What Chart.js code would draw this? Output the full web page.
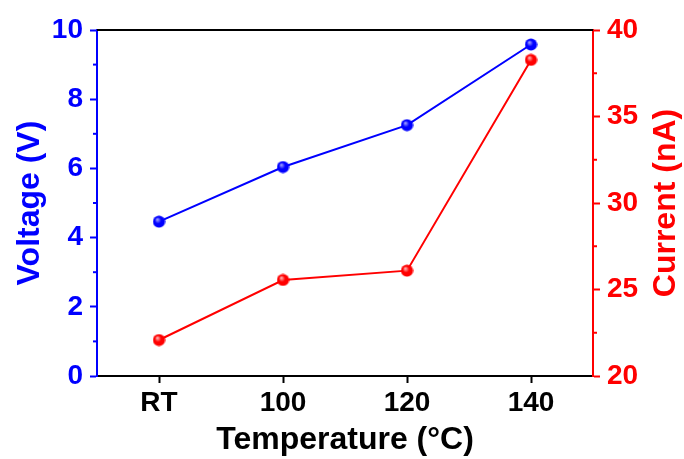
<!DOCTYPE html>
<html>
<head>
<meta charset="utf-8">
<script src="https://cdn.jsdelivr.net/npm/chart.js@4/dist/chart.umd.min.js"></script>
<style>
html,body{margin:0;padding:0;background:#fff;}
#wrap{width:684px;height:459px;}
</style>
</head>
<body>
<div id="wrap"><canvas id="tempChart" width="684" height="459"></canvas></div>
<script>
const temps = ["RT", "100", "120", "140"];
const voltage = [4.46, 6.04, 7.25, 9.58];
const current = [22.08, 25.55, 26.09, 38.27];
const voltMinor = [1, 3, 5, 7, 9];
const currMinor = [22.5, 27.5, 32.5, 37.5];

const FONT = "'Liberation Sans', Arial, sans-serif";

// shaded ball marker
function ball(color, light){
const c = document.createElement("canvas");
c.width = 13; c.height = 13;
const g = c.getContext("2d");
const grd = g.createRadialGradient(4.8, 4.3, 0.5, 6.5, 6.5, 6.5);
grd.addColorStop(0, light);
grd.addColorStop(0.45, color);
grd.addColorStop(1, color);
g.fillStyle = grd;
g.beginPath();
g.arc(6.5, 6.5, 6.1, 0, Math.PI*2);
g.fill();
return c;
}

const extras = {
id:"extras",
afterDraw(chart){
const ctx = chart.ctx;
const a = chart.chartArea;
ctx.save();
// top frame line
ctx.strokeStyle = "#000";
ctx.lineWidth = 2;
ctx.beginPath();
ctx.moveTo(a.left, a.top);
ctx.lineTo(a.right, a.top);
ctx.stroke();
// minor ticks
const yl = chart.scales.y;
ctx.strokeStyle = "#0000ff";
voltMinor.forEach(v => {
const p = yl.getPixelForValue(v);
ctx.beginPath(); ctx.moveTo(a.left - 4, p); ctx.lineTo(a.left, p); ctx.stroke();
});
const yr = chart.scales.y1;
ctx.strokeStyle = "#ff0000";
currMinor.forEach(v => {
const p = yr.getPixelForValue(v);
ctx.beginPath(); ctx.moveTo(a.right, p); ctx.lineTo(a.right + 4, p); ctx.stroke();
});
// right axis title, reading bottom to top
ctx.translate(666, (a.top + a.bottom)/2);
ctx.rotate(-Math.PI/2);
ctx.fillStyle = "#ff0000";
ctx.font = "bold 32px " + FONT;
ctx.textAlign = "center";
ctx.textBaseline = "middle";
ctx.fillText("Current (nA)", 0, 0);
ctx.restore();
}
};

const ctx = document.getElementById("tempChart").getContext("2d");

new Chart(ctx,{
type:"line",
data:{
labels:temps,
datasets:[{
label:"Voltage",
data:voltage,
yAxisID:"y",
borderColor:"#0000ff",
borderWidth:2,
pointStyle:ball("#0000ff", "#9a9aff"),
pointRadius:6,
tension:0
},{
label:"Current",
data:current,
yAxisID:"y1",
borderColor:"#ff0000",
borderWidth:2,
pointStyle:ball("#ff0000", "#ffb0b0"),
pointRadius:6,
tension:0
}]
},
plugins:[extras],
options:{
animation:false,
responsive:false,
layout:{padding:{top:30,left:0,right:0,bottom:0}},
plugins:{legend:{display:false},tooltip:{enabled:false}},
scales:{
x:{
offset:true,
afterFit:s => { s.height = 83; },
grid:{drawOnChartArea:false, offset:false, tickLength:7, tickWidth:2, tickColor:"#000"},
border:{color:"#000", width:2},
ticks:{color:"#000", font:{family:FONT, size:28, weight:"bold"}, padding:3, maxRotation:0},
title:{display:true, text:"Temperature (°C)", color:"#000", font:{family:FONT, size:32, weight:"bold"}, padding:{top:0,bottom:0}}
},
y:{
position:"left",
min:0, max:10,
afterFit:s => { s.width = 97; },
grid:{drawOnChartArea:false, tickLength:7, tickWidth:2, tickColor:"#0000ff"},
border:{color:"#0000ff", width:2},
ticks:{stepSize:2, color:"#0000ff", font:{family:FONT, size:28, weight:"bold"}, padding:7},
title:{display:true, text:"Voltage (V)", color:"#0000ff", font:{family:FONT, size:32, weight:"bold"}, padding:{top:11,bottom:0}}
},
y1:{
position:"right",
min:20, max:40,
afterFit:s => { s.width = 91; },
grid:{drawOnChartArea:false, tickLength:7, tickWidth:2, tickColor:"#ff0000"},
border:{color:"#ff0000", width:2},
ticks:{stepSize:5, color:"#ff0000", font:{family:FONT, size:28, weight:"bold"}, padding:7}
}
}
}
});
</script>
</body>
</html>
